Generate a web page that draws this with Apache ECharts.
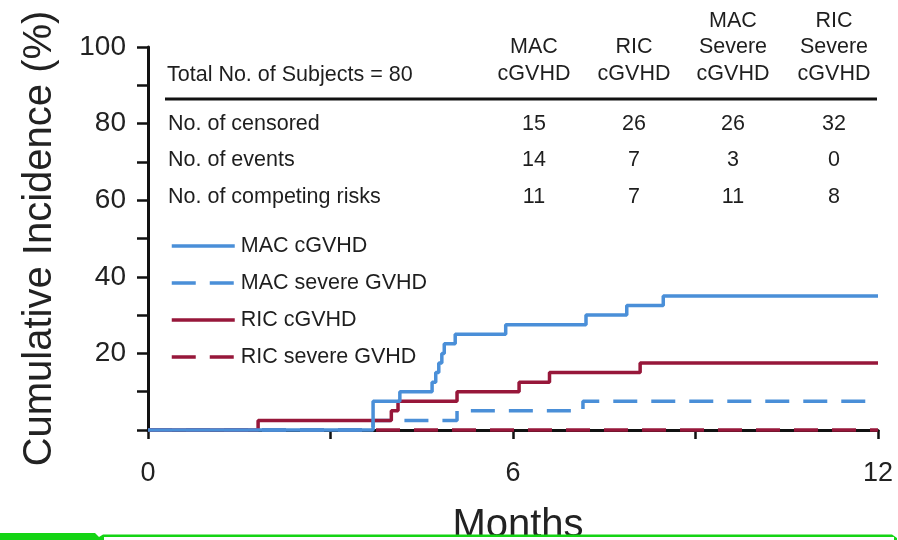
<!DOCTYPE html>
<html>
<head>
<meta charset="utf-8">
<script src="https://cdn.jsdelivr.net/npm/echarts@6/dist/echarts.min.js"></script>
<style>
  html, body { margin: 0; padding: 0; background: #fff; }
  #chart { width: 898px; height: 540px; }
</style>
</head>
<body>
<div id="chart"></div>
<script>
// Cumulative incidence step curves (months, %)
const macCgvhdTimes  = [0, 3.70, 4.14, 4.67, 4.73, 4.78, 4.83, 4.87, 5.05, 5.88, 7.20, 7.87, 8.47, 12];
const macCgvhdValues = [0, 7.5, 10, 12.5, 15, 17.5, 20, 22.5, 25, 27.5, 30, 32.5, 35, 35];

const macSevereTimes  = [0, 3.70, 5.08, 7.15, 12];
const macSevereValues = [0, 2.5, 5, 7.5, 7.5];

const ricCgvhdTimes  = [0, 1.81, 4.00, 4.11, 5.08, 6.10, 6.60, 8.09, 12];
const ricCgvhdValues = [0, 2.5, 5, 7.5, 10, 12.5, 15, 17.5, 17.5];

const ricSevereTimes  = [0, 12];
const ricSevereValues = [0, 0];

// Summary table
const totalSubjects = 80;
const tableColumns = [['MAC', 'cGVHD'], ['RIC', 'cGVHD'], ['MAC', 'Severe', 'cGVHD'], ['RIC', 'Severe', 'cGVHD']];
const rowLabels = ['No. of censored', 'No. of events', 'No. of competing risks'];
const censored  = [15, 26, 26, 32];
const events    = [14, 7, 3, 0];
const competing = [11, 7, 11, 8];

const seriesNames = ['MAC cGVHD', 'MAC severe GVHD', 'RIC cGVHD', 'RIC severe GVHD'];
const xTickLabels = [0, 6, 12];
const yTickLabels = [20, 40, 60, 80, 100];

const BLUE = '#4a8fd8';
const RED = '#97173a';
const FONT = '"Liberation Sans", Arial, Helvetica, sans-serif';
const TXT = '#1e1e1e';

function pairs(ts, vs) { return ts.map((t, i) => [t, vs[i]]); }

const chart = echarts.init(document.getElementById('chart'), null, { renderer: 'canvas' });

// table graphics
const colX = [534, 634, 733, 834];
const rowY = [124, 160, 197];
const tableRows = [censored, events, competing];
const graphics = [];
graphics.push({
  type: 'text', x: 167, y: 75,
  style: { text: 'Total No. of Subjects = ' + totalSubjects, font: '21.5px ' + FONT, fill: TXT, textVerticalAlign: 'middle' }
});
tableColumns.forEach((lines, c) => {
  lines.forEach((ln, k) => {
    const y = 74 - (lines.length - 1 - k) * 26.5;
    graphics.push({
      type: 'text', x: colX[c], y: y,
      style: { text: ln, font: '21.5px ' + FONT, fill: TXT, textAlign: 'center', textVerticalAlign: 'middle' }
    });
  });
});
graphics.push({
  type: 'line', shape: { x1: 165, y1: 99, x2: 877, y2: 99 },
  style: { stroke: '#111', lineWidth: 3 }
});
rowLabels.forEach((lab, r) => {
  graphics.push({
    type: 'text', x: 168, y: rowY[r],
    style: { text: lab, font: '21.5px ' + FONT, fill: TXT, textAlign: 'left', textVerticalAlign: 'middle' }
  });
  tableRows[r].forEach((v, c) => {
    graphics.push({
      type: 'text', x: colX[c], y: rowY[r],
      style: { text: String(v), font: '21.5px ' + FONT, fill: TXT, textAlign: 'center', textVerticalAlign: 'middle' }
    });
  });
});
// green tab strip along the bottom edge
graphics.push({
  type: 'polygon', z: 100,
  shape: { points: [[0, 533], [95, 533], [99, 537], [103, 534.5], [892, 534.5], [897, 538], [897, 540], [0, 540]] },
  style: { fill: '#14d414' }
});
graphics.push({
  type: 'rect', z: 101,
  shape: { x: 104, y: 537, width: 790, height: 3 },
  style: { fill: '#fff' }
});

const lineBase = { type: 'line', step: 'end', symbol: 'none', clip: false, silent: true };

const option = {
  animation: false,
  backgroundColor: '#fff',
  grid: { left: 148, right: 20, top: 47, bottom: 110, containLabel: false, outerBoundsMode: 'none' },
  xAxis: {
    type: 'value', min: 0, max: 12, interval: 3,
    name: 'Months', nameLocation: 'middle', nameGap: 76,
    nameTextStyle: { fontFamily: FONT, fontSize: 40, color: '#222', padding: [0, 0, 0, 10] },
    axisLine: { show: true, onZero: false, lineStyle: { color: '#111', width: 3 } },
    axisTick: { show: true, inside: false, length: 9, lineStyle: { color: '#111', width: 2.5 } },
    axisLabel: {
      fontFamily: FONT, fontSize: 27, color: '#222', margin: 30,
      formatter: v => (xTickLabels.indexOf(v) >= 0 ? String(v) : '')
    },
    splitLine: { show: false }
  },
  yAxis: {
    type: 'value', min: 0, max: 100, interval: 10,
    name: 'Cumulative Incidence (%)', nameLocation: 'middle', nameGap: 88, nameRotate: 90,
    nameTextStyle: { fontFamily: FONT, fontSize: 40, color: '#222' },
    axisLine: { show: true, lineStyle: { color: '#111', width: 3 } },
    axisTick: { show: true, inside: false, length: 11, lineStyle: { color: '#111', width: 2.5 } },
    axisLabel: {
      fontFamily: FONT, fontSize: 28, color: '#222', margin: 22,
      formatter: v => (yTickLabels.indexOf(v) >= 0 ? String(v) : '')
    },
    splitLine: { show: false }
  },
  legend: {
    orient: 'vertical', left: 165, top: 230,
    itemWidth: 63, itemHeight: 22, itemGap: 15,
    data: seriesNames,
    itemStyle: { opacity: 0, borderWidth: 0 },
    lineStyle: { width: 3.5 },
    textStyle: { fontFamily: FONT, fontSize: 21.5, color: TXT, lineHeight: 22, padding: [0, 0, 0, 1] },
    selectedMode: false
  },
  series: [
    Object.assign({}, lineBase, {
      name: 'RIC severe GVHD', z: 2, data: pairs(ricSevereTimes, ricSevereValues),
      color: RED, lineStyle: { color: RED, width: 3.5, type: [24, 14] }
    }),
    Object.assign({}, lineBase, {
      name: 'MAC severe GVHD', z: 3, data: pairs(macSevereTimes, macSevereValues),
      color: BLUE, lineStyle: { color: BLUE, width: 3.5, type: [24, 14] }
    }),
    Object.assign({}, lineBase, {
      name: 'RIC cGVHD', z: 4, data: pairs(ricCgvhdTimes, ricCgvhdValues),
      color: RED, lineStyle: { color: RED, width: 3.5 }
    }),
    Object.assign({}, lineBase, {
      name: 'MAC cGVHD', z: 5, data: pairs(macCgvhdTimes, macCgvhdValues),
      color: BLUE, lineStyle: { color: BLUE, width: 3.5 }
    })
  ],
  graphic: graphics
};

chart.setOption(option);
</script>
</body>
</html>
